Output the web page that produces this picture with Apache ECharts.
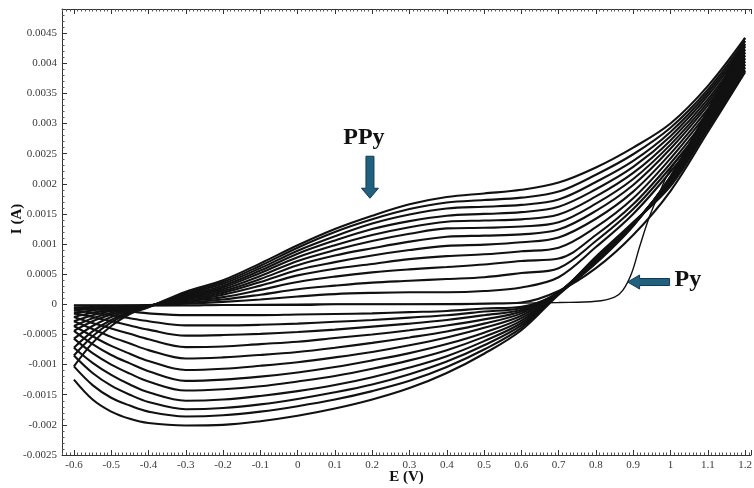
<!DOCTYPE html>
<html><head><meta charset="utf-8">
<script src="https://cdn.jsdelivr.net/npm/echarts@6/dist/echarts.min.js"></script>
<style>html,body{margin:0;padding:0;background:#fff}#c{width:754px;height:488px}</style>
</head><body><div id="c"></div>
<script>
// Potential grid (V) shared by the polymer scans
const potential = [-0.6,-0.55,-0.5,-0.45,-0.4,-0.3,-0.2,-0.1,0,0.1,0.2,0.3,0.4,0.5,0.6,0.7,0.8,0.9,1.0,1.1,1.2];

// First cycle (monomer, Py) - its own potential grid for the onset region
const pyPotential = [-0.6,-0.4,-0.2,0,0.2,0.4,0.6,0.7,0.8,0.85,0.872,0.896,0.917,0.944,0.971,1.0,1.05,1.1,1.15,1.2];
const pyForward   = [-0.02,-0.02,-0.01,0,0,0.01,0.02,0.03,0.05,0.12,0.23,0.52,0.95,1.46,1.86,2.24,2.62,3.0,3.42,3.85]; // mA
const pyReverse   = [-0.02,-0.02,-0.02,-0.02,-0.02,-0.02,-0.01,-0.01,-0.01,0,0,0,0,0.01,0.03,0.22,0.60,1.15,1.88,2.86,3.85]; // mA on `potential`

// Polymer growth cycles: forward (anodic) scans, mA on `potential`
const fwd1  = [-0.02,-0.02,-0.02,-0.02,-0.01,0.01,0.04,0.08,0.13,0.17,0.19,0.20,0.20,0.22,0.28,0.45,0.95,1.50,2.20,3.00,3.88];
const fwd2  = [-0.06,-0.045,-0.035,-0.025,-0.015,0.03,0.08,0.16,0.25,0.31,0.36,0.39,0.42,0.45,0.52,0.60,1.05,1.58,2.27,3.06,3.93];
const fwd3  = [-0.10,-0.07,-0.05,-0.035,-0.02,0.05,0.12,0.24,0.37,0.46,0.53,0.58,0.62,0.66,0.72,0.76,1.15,1.66,2.34,3.12,3.98];
const fwd4  = [-0.15,-0.10,-0.065,-0.04,-0.02,0.06,0.16,0.31,0.48,0.59,0.67,0.75,0.80,0.83,0.88,0.94,1.28,1.76,2.42,3.18,4.03];
const fwd5  = [-0.21,-0.14,-0.09,-0.05,-0.025,0.08,0.19,0.37,0.57,0.70,0.81,0.90,0.97,0.99,1.03,1.11,1.42,1.87,2.50,3.24,4.08];
const fwd6  = [-0.28,-0.18,-0.11,-0.06,-0.025,0.10,0.22,0.42,0.65,0.81,0.93,1.04,1.12,1.14,1.16,1.24,1.55,1.98,2.58,3.30,4.13];
const fwd7  = [-0.36,-0.23,-0.14,-0.07,-0.03,0.12,0.25,0.47,0.72,0.90,1.05,1.17,1.26,1.27,1.29,1.36,1.67,2.08,2.65,3.35,4.18];
const fwd8  = [-0.44,-0.28,-0.17,-0.085,-0.03,0.13,0.28,0.52,0.78,0.98,1.15,1.28,1.37,1.39,1.41,1.49,1.79,2.18,2.72,3.40,4.23];
const fwd9  = [-0.57,-0.36,-0.21,-0.10,-0.035,0.15,0.31,0.56,0.84,1.06,1.25,1.38,1.47,1.50,1.53,1.62,1.91,2.28,2.79,3.46,4.28];
const fwd10 = [-0.72,-0.45,-0.26,-0.12,-0.04,0.17,0.34,0.60,0.89,1.13,1.34,1.49,1.59,1.62,1.65,1.74,2.03,2.38,2.86,3.51,4.32];
const fwd11 = [-0.85,-0.53,-0.30,-0.14,-0.045,0.19,0.37,0.64,0.94,1.20,1.41,1.58,1.69,1.73,1.77,1.87,2.15,2.49,2.93,3.56,4.37];
const fwd12 = [-1.03,-0.64,-0.36,-0.16,-0.05,0.21,0.40,0.68,0.98,1.25,1.47,1.66,1.78,1.84,1.90,2.02,2.27,2.60,3.00,3.62,4.42];

// Polymer growth cycles: reverse (cathodic) scans, mA on `potential`
const rev1  = [-0.06,-0.08,-0.10,-0.12,-0.15,-0.18,-0.18,-0.18,-0.17,-0.16,-0.15,-0.13,-0.11,-0.07,-0.04,0.20,0.79,1.36,1.96,2.91,3.88];
const rev2  = [-0.10,-0.14,-0.18,-0.23,-0.28,-0.35,-0.35,-0.34,-0.32,-0.29,-0.26,-0.22,-0.18,-0.12,-0.06,0.20,0.78,1.35,1.98,2.94,3.93];
const rev3  = [-0.15,-0.21,-0.28,-0.35,-0.42,-0.52,-0.51,-0.49,-0.46,-0.42,-0.37,-0.32,-0.26,-0.18,-0.09,0.20,0.77,1.35,2.00,2.97,3.98];
const rev4  = [-0.21,-0.31,-0.40,-0.49,-0.58,-0.71,-0.70,-0.66,-0.62,-0.56,-0.50,-0.43,-0.35,-0.25,-0.12,0.19,0.76,1.34,2.02,3.00,4.03];
const rev5  = [-0.28,-0.41,-0.54,-0.65,-0.76,-0.90,-0.88,-0.84,-0.79,-0.72,-0.64,-0.55,-0.45,-0.32,-0.15,0.19,0.75,1.34,2.04,3.03,4.08];
const rev6  = [-0.36,-0.53,-0.69,-0.82,-0.94,-1.09,-1.07,-1.02,-0.96,-0.88,-0.79,-0.68,-0.55,-0.39,-0.19,0.19,0.74,1.33,2.06,3.06,4.13];
const rev7  = [-0.44,-0.66,-0.84,-0.98,-1.11,-1.27,-1.25,-1.20,-1.13,-1.04,-0.93,-0.81,-0.66,-0.47,-0.23,0.18,0.73,1.33,2.08,3.09,4.18];
const rev8  = [-0.57,-0.81,-1.00,-1.15,-1.28,-1.43,-1.41,-1.36,-1.28,-1.19,-1.07,-0.93,-0.76,-0.54,-0.27,0.18,0.72,1.32,2.09,3.12,4.23];
const rev9  = [-0.72,-0.97,-1.17,-1.33,-1.46,-1.60,-1.58,-1.52,-1.44,-1.34,-1.21,-1.05,-0.86,-0.61,-0.31,0.18,0.71,1.32,2.10,3.15,4.28];
const rev10 = [-0.85,-1.14,-1.35,-1.50,-1.62,-1.74,-1.72,-1.66,-1.57,-1.46,-1.33,-1.16,-0.95,-0.68,-0.35,0.17,0.70,1.31,2.11,3.18,4.32];
const rev11 = [-1.03,-1.34,-1.55,-1.68,-1.78,-1.86,-1.84,-1.78,-1.69,-1.58,-1.44,-1.27,-1.04,-0.75,-0.39,0.17,0.69,1.31,2.12,3.20,4.37];
const rev12 = [-1.25,-1.58,-1.78,-1.90,-1.97,-2.01,-2.00,-1.94,-1.85,-1.73,-1.58,-1.39,-1.14,-0.82,-0.43,0.16,0.68,1.30,2.12,3.22,4.42];

const forwardScans = [fwd1,fwd2,fwd3,fwd4,fwd5,fwd6,fwd7,fwd8,fwd9,fwd10,fwd11,fwd12];
const reverseScans = [rev1,rev2,rev3,rev4,rev5,rev6,rev7,rev8,rev9,rev10,rev11,rev12];

const xName = 'E (V)';
const yName = 'I (A)';
const annotations = { polymer: 'PPy', monomer: 'Py' };

const FONT = '"Liberation Serif", "DejaVu Serif", serif';
const toPairs = (xs, ysmA) => xs.map((x, i) => [x, ysmA[i] / 1000]);

const lineBase = {
  type: 'line', showSymbol: false, symbol: 'none', smooth: 0.35, silent: true,
  lineStyle: { color: '#111', width: 2.1 }, animation: false
};

const series = [];
series.push(Object.assign({}, lineBase, { name: 'Py fwd', data: toPairs(pyPotential, pyForward), lineStyle: { color: '#111', width: 1.4 } }));
series.push(Object.assign({}, lineBase, { name: 'Py rev', data: toPairs(potential, pyReverse) }));
forwardScans.forEach((f, i) => series.push(Object.assign({}, lineBase, { name: 'fwd' + (i + 1), data: toPairs(potential, f) })));
reverseScans.forEach((r, i) => series.push(Object.assign({}, lineBase, { name: 'rev' + (i + 1), data: toPairs(potential, r) })));

const axisCommon = {
  axisLine: { show: true, onZero: false, lineStyle: { color: '#333', width: 1 } },
  axisTick: { show: true, inside: true, length: 5, lineStyle: { color: '#333' } },
  splitLine: { show: false },
  axisLabel: { fontFamily: FONT, fontSize: 11, color: '#3a3a3a', margin: 5 }
};

const chart = echarts.init(document.getElementById('c'), null, { renderer: 'canvas' });
chart.setOption({
  animation: false,
  backgroundColor: '#fff',
  grid: { left: 62, right: 3, top: 9, bottom: 33, containLabel: false, outerBoundsMode: 'none' },
  xAxis: [
    Object.assign({}, axisCommon, {
      type: 'value', min: -0.632, max: 1.216, splitNumber: 18, minInterval: 0.1, maxInterval: 0.1,
      name: xName, nameLocation: 'middle', nameGap: 15, nameMoveOverlap: false,
      nameTextStyle: { fontFamily: FONT, fontSize: 15, fontWeight: 'bold', color: '#111' },
      minorTick: { show: true, splitNumber: 10, length: 2.5, lineStyle: { color: '#555' } },
      axisLabel: Object.assign({}, axisCommon.axisLabel, { showMinLabel: false, showMaxLabel: false })
    }),
    Object.assign({}, axisCommon, {
      type: 'value', position: 'top', min: -0.632, max: 1.216, splitNumber: 18, minInterval: 0.1, maxInterval: 0.1,
      minorTick: { show: true, splitNumber: 10, length: 2.5, lineStyle: { color: '#555' } },
      axisLabel: { show: false }
    })
  ],
  yAxis: [
    Object.assign({}, axisCommon, {
      type: 'value', min: -0.0025, max: 0.0049, interval: 0.0005,
      name: yName, nameLocation: 'middle', nameGap: 37, nameRotate: 90, nameMoveOverlap: false,
      nameTextStyle: { fontFamily: FONT, fontSize: 15, fontWeight: 'bold', color: '#111', padding: [0, 0, 0, 26] },
      minorTick: { show: true, splitNumber: 5, length: 2.5, lineStyle: { color: '#555' } },
      axisLabel: Object.assign({}, axisCommon.axisLabel, { showMaxLabel: false })
    })
  ],
  series: series
});

// Annotation arrows, anchored to data coordinates
const ARROW_FILL = '#22607f', ARROW_STROKE = '#123a4f';
const t1 = chart.convertToPixel({ xAxisIndex: 0, yAxisIndex: 0 }, [0.194, 0.00176]);
const t2 = chart.convertToPixel({ xAxisIndex: 0, yAxisIndex: 0 }, [0.885, 0.00037]);
const down = [[t1[0]-4, t1[1]-42],[t1[0]+4, t1[1]-42],[t1[0]+4, t1[1]-10],[t1[0]+8.5, t1[1]-10],[t1[0], t1[1]],[t1[0]-8.5, t1[1]-10],[t1[0]-4, t1[1]-10]];
const left = [[t2[0], t2[1]],[t2[0]+12, t2[1]-7],[t2[0]+12, t2[1]-3.5],[t2[0]+42, t2[1]-3.5],[t2[0]+42, t2[1]+3.5],[t2[0]+12, t2[1]+3.5],[t2[0]+12, t2[1]+7]];
chart.setOption({
  graphic: [
    { type: 'polygon', shape: { points: down }, style: { fill: ARROW_FILL, stroke: ARROW_STROKE, lineWidth: 1 }, z: 100 },
    { type: 'polygon', shape: { points: left }, style: { fill: ARROW_FILL, stroke: ARROW_STROKE, lineWidth: 1 }, z: 100 },
    { type: 'text', x: t1[0] - 6, y: t1[1] - 60, z: 100,
      style: { text: annotations.polymer, font: 'bold 24px ' + FONT, fill: '#111', align: 'center', verticalAlign: 'middle' } },
    { type: 'text', x: t2[0] + 47, y: t2[1] - 2, z: 100,
      style: { text: annotations.monomer, font: 'bold 24px ' + FONT, fill: '#111', align: 'left', verticalAlign: 'middle' } }
  ]
});
</script>
</body></html>
